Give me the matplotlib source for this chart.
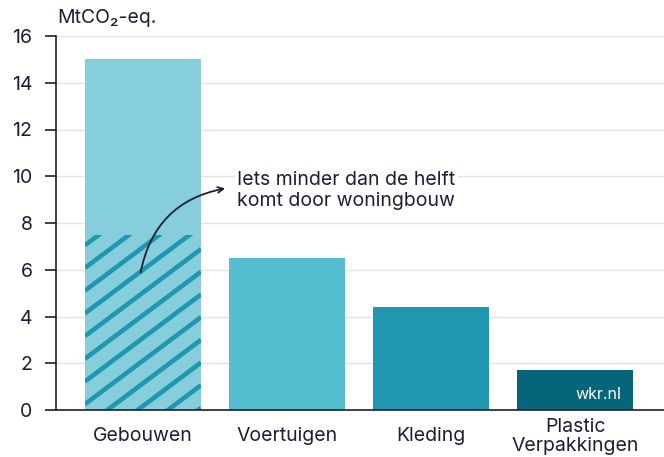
import numpy as np
import matplotlib.pyplot as plt
from matplotlib.lines import Line2D

plt.rcParams['font.family'] = ['Inter', 'DejaVu Sans']

# data
categories = ["Gebouwen", "Voertuigen", "Kleding", "Plastic\nVerpakkingen"]
values = [15.0, 6.5, 4.4, 1.7]
woningbouw = 7.5  # hatched part of Gebouwen
colors = ["#86cedc", "#53bece", "#2196b0", "#07657a"]
hatch_color = "#2196b0"
dark = "#1c1f33"

fig = plt.figure(figsize=(6.64, 4.57), dpi=100)
ax = fig.add_axes([56 / 664, 1 - 410 / 457, 1 - 56 / 664, (410 - 36) / 457])

x = np.arange(len(categories))
bars = ax.bar(x, values, width=0.806, color=colors, zorder=2)

# hatched part (woningbouw) drawn as its own bar, with hand-made diagonal lines
part = ax.bar(x[0], woningbouw, width=0.806, color=colors[0], zorder=3)[0]

ax.set_xlim(-0.604, 3.618)
ax.set_ylim(0, 16)

# pixel scale of the data axes, to get lines at a fixed angle/spacing in pixels
bb = ax.get_position()
W = bb.width * 664
H = bb.height * 457
px_x = W / (3.618 + 0.604)
px_y = H / 16
slope_px = 0.75
gap_px = 22.7
x0, x1 = part.get_x(), part.get_x() + part.get_width()
for k in range(-12, 12):
    b = k * gap_px / px_y + 0.25
    xs = np.array([x0, x1])
    ys = b + (xs - x0) * px_x * slope_px / px_y
    ln = Line2D(xs, ys, color=hatch_color, lw=3.3, zorder=4, solid_capstyle='butt')
    ax.add_line(ln)
    ln.set_clip_path(part)

for s in ["top", "right"]:
    ax.spines[s].set_visible(False)
ax.spines["left"].set_color(dark)
ax.spines["bottom"].set_color(dark)
ax.spines["left"].set_linewidth(1.2)
ax.spines["bottom"].set_linewidth(1.2)
ax.spines["left"].set_zorder(5)
ax.spines["bottom"].set_zorder(5)

ax.set_yticks(np.arange(0, 17, 2))
ax.yaxis.grid(True, color="#e2e2e2", lw=1)
ax.set_axisbelow(True)
ax.tick_params(axis="y", length=8, width=1.2, color=dark, labelsize=14, labelcolor=dark, pad=9)
ax.tick_params(axis="x", length=0, labelsize=14, labelcolor=dark, pad=19)
ax.set_xticks(x)
ax.set_xticklabels(categories, linespacing=1.1, va="center")

fig.text(57 / 664, 1 - 18 / 457, "MtCO₂-eq.", fontsize=14, color=dark, va="center", ha="left")

ax.annotate("", xy=(0.59, 9.5), xytext=(-0.02, 5.77),
            arrowprops=dict(arrowstyle="->", color=dark, lw=1.3,
                            connectionstyle="arc3,rad=-0.35"), zorder=6)
ax.text(0.655, 9.4, "Iets minder dan de helft\nkomt door woningbouw",
        fontsize=14, color=dark, va="center", ha="left", linespacing=1.2,
        bbox=dict(facecolor="white", edgecolor="none", pad=2), zorder=6)

ax.text(x[3] + 0.32, 0.65, "wkr.nl", color="white", fontsize=11.5,
        ha="right", va="center", zorder=6)

fig.savefig("out.png", dpi=100)
